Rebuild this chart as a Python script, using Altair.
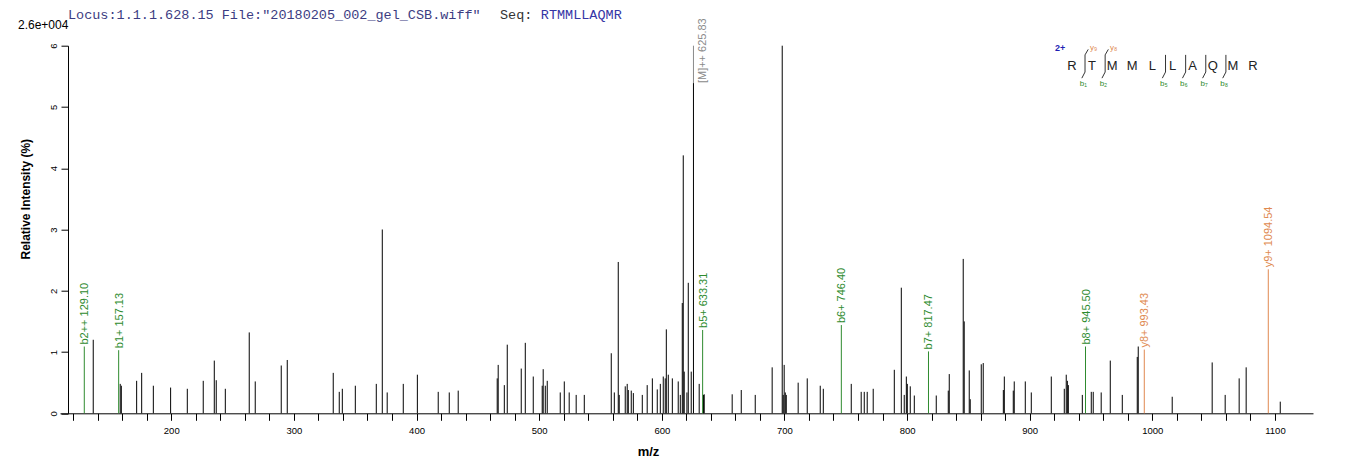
import altair as alt
import pandas as pd

# ---------------- data ----------------
peak_mz = [136.4, 158.4, 159.3, 171.8, 175.9, 185.4, 199.5, 213.1, 226.1, 235.1,
           236.7, 244.1, 263.6, 268.5, 289.7, 294.6, 332.1, 337.0, 339.5, 350.1,
           367.2, 372.1, 376.1, 389.2, 400.7, 417.7, 426.7, 434.0, 465.8, 466.6,
           471.6, 474.0, 485.4, 488.7, 495.2, 502.5, 503.3, 505.0, 506.6, 517.2,
           520.5, 524.5, 530.2, 536.8, 558.8, 561.3, 564.5, 565.3, 570.2, 571.8,
           572.7, 575.1, 576.8, 584.1, 588.1, 592.3, 596.3, 598.8, 601.2, 602.8,
           603.7, 605.3, 608.6, 613.4, 615.1, 616.7, 617.5, 618.3, 620.5, 621.6,
           624.0, 625.83, 630.5, 634.0, 634.6, 657.4, 664.8, 676.2, 690.0, 698.2,
           699.0, 699.8, 700.7, 701.5, 711.2, 718.6, 729.2, 731.7, 754.5, 762.6,
           765.1, 767.5, 772.4, 789.6, 795.3, 797.7, 799.4, 800.2, 802.6, 805.9,
           823.8, 833.6, 834.4, 845.8, 846.6, 850.7, 851.5, 860.5, 862.1, 878.5,
           879.3, 886.6, 887.4, 896.4, 901.3, 917.6, 928.2, 929.8, 930.7, 931.5,
           942.9, 950.2, 951.8, 958.3, 965.7, 975.5, 987.7, 988.5, 1016.2, 1048.8,
           1059.4, 1070.8, 1076.5, 1104.3]
peak_int = [1.20, 0.48, 0.45, 0.53, 0.66, 0.45, 0.42, 0.40, 0.53, 0.86,
            0.54, 0.40, 1.32, 0.52, 0.78, 0.87, 0.66, 0.35, 0.40, 0.45,
            0.48, 3.00, 0.34, 0.48, 0.63, 0.35, 0.34, 0.37, 0.57, 0.79,
            0.46, 1.12, 0.73, 1.15, 0.60, 0.45, 0.72, 0.45, 0.53, 0.34,
            0.52, 0.34, 0.30, 0.30, 0.98, 0.34, 2.47, 0.30, 0.44, 0.48,
            0.38, 0.37, 0.33, 0.30, 0.46, 0.57, 0.39, 0.48, 0.60, 0.57,
            1.37, 0.63, 0.57, 0.52, 0.30, 1.80, 4.21, 0.68, 0.34, 2.13,
            0.68, 5.39, 0.48, 0.30, 0.31, 0.31, 0.38, 0.30, 0.75, 6.00,
            0.30, 0.79, 0.34, 0.30, 0.50, 0.57, 0.45, 0.40, 0.48, 0.35,
            0.35, 0.35, 0.40, 0.71, 2.05, 0.30, 0.60, 0.48, 0.44, 0.29,
            0.29, 0.37, 0.64, 2.52, 1.50, 0.70, 0.23, 0.80, 0.82, 0.38,
            0.60, 0.37, 0.52, 0.52, 0.34, 0.60, 0.40, 0.63, 0.53, 0.46,
            0.30, 0.35, 0.35, 0.34, 0.86, 0.30, 0.92, 1.09, 0.27, 0.83,
            0.30, 0.57, 0.75, 0.19]

ann_mz = [129.10, 157.13, 633.31, 746.40, 817.47, 945.50, 993.43, 1094.54]
ann_int = [1.09, 1.03, 1.36, 1.44, 1.01, 1.09, 1.04, 2.35]
ann_label = ["b2++ 129.10", "b1+ 157.13", "b5+ 633.31", "b6+ 746.40",
             "b7+ 817.47", "b8+ 945.50", "y8+ 993.43", "y9+ 1094.54"]
ann_type = ["b", "b", "b", "b", "b", "b", "y", "y"]

prec_mz = [625.83]
prec_int = [5.39]
prec_top = [6.0]
prec_label = ["[M]++ 625.83"]

sequence = list("RTMMLLAQMR")
b_ions = [1, 2, 5, 6, 7, 8]
y_ions = [9, 8]
charge_label = "2+"

x_ticks = list(range(120, 1101, 20))
y_ticks = [0, 1, 2, 3, 4, 5, 6]

header_locus = 'Locus:1.1.1.628.15 File:"20180205_002_gel_CSB.wiff"'
header_seq_label = "Seq:"
header_seq = "RTMMLLAQMR"
scale_label = "2.6e+004"

# ---------------- styling / layout ----------------
GREEN = "#2e8b2e"
ORANGE = "#e0894f"
GREY = "#8a8a8a"
FONT = "Liberation Sans"
MONO = "Liberation Mono"

X_DOMAIN = [109.3, 1131.0]
Y_DOMAIN = [0, 6]
W, H = 1253, 367.6

# sequence annotation anchor (in data units)
SEQ_X0, SEQ_STEP, SEQ_Y = 934.4, 16.41, 5.67
SEP_SHIFT = 5.7
SEP_LO, SEP_HI = 5.57, 5.85

xs = alt.Scale(domain=X_DOMAIN, nice=False, zero=False)
ys = alt.Scale(domain=Y_DOMAIN, nice=False, zero=True)

x_axis = alt.Axis(values=x_ticks, labelExpr="datum.value % 100 == 0 ? datum.label : ''",
                  grid=False, tickSize=7, labelPadding=5, labelFontSize=9.5, labelFont=FONT,
                  labelColor="#000", domainColor="#000", tickColor="#000",
                  labelOverlap=False, labelBound=False,
                  title="m/z", titleFont=FONT, titleFontSize=13, titleFontWeight="bold",
                  titleColor="#000", titleX=588, titleY=38, titleBaseline="middle",
                  titleAnchor="start", titleAlign="center", labelFlush=False, format="d")
y_axis = alt.Axis(values=y_ticks, grid=False, tickSize=7, labelPadding=8, labelFontSize=9.5,
                  labelFont=FONT, labelColor="#000", labelAngle=270, labelAlign="center",
                  labelBaseline="middle", domainColor="#000", tickColor="#000", offset=-8,
                  labelOverlap=False, format="d",
                  title="Relative  Intensity (%)", titleFont=FONT, titleFontSize=12,
                  titleFontWeight="bold", titleColor="#000", titleAngle=270,
                  titleX=-43, titleY=153, titleAlign="center", titleBaseline="middle",
                  labelFlush=False)


def X(field):
    return alt.X(field, scale=xs, axis=x_axis)


def Y(field):
    return alt.Y(field, scale=ys, axis=y_axis)


peaks = pd.DataFrame({"mz": peak_mz, "inten": peak_int})
ann = pd.DataFrame({"mz": ann_mz, "inten": ann_int, "label": ann_label, "type": ann_type})
prec = pd.DataFrame({"mz": prec_mz, "inten": prec_int, "top": prec_top, "label": prec_label})

color_scale = alt.Scale(domain=["b", "y"], range=[GREEN, ORANGE])

base_peaks = alt.Chart(peaks).mark_rule(color="#000", strokeWidth=1).encode(
    x=X("mz:Q"), y=Y("inten:Q"), y2=alt.datum(0),
)

ann_rules = alt.Chart(ann).mark_rule(strokeWidth=1).encode(
    x=X("mz:Q"), y=Y("inten:Q"), y2=alt.datum(0),
    color=alt.Color("type:N", scale=color_scale, legend=None),
)
ann_text = alt.Chart(ann).mark_text(angle=270, align="left", baseline="middle", dx=2,
                                    dy=1, fontSize=11, font=FONT).encode(
    x=X("mz:Q"), y=Y("inten:Q"), text="label:N",
    color=alt.Color("type:N", scale=color_scale, legend=None),
)

prec_rule = alt.Chart(prec).mark_rule(color=GREY, strokeWidth=1).encode(
    x=X("mz:Q"), y=Y("inten:Q"), y2="top:Q",
)
prec_text = alt.Chart(prec).mark_text(angle=270, align="left", baseline="middle", dx=0,
                                      dy=10, fontSize=11, font=FONT, color=GREY).encode(
    x=X("mz:Q"), y=Y("inten:Q"), text="label:N",
)

# --- sequence annotation (top right) ---
n = len(sequence)
letters = pd.DataFrame({"x": [SEQ_X0 + SEQ_STEP * i for i in range(n)],
                        "y": [SEQ_Y] * n, "t": sequence})
seps = sorted(set(b_ions) | set(n - k for k in y_ions))
sep_df = pd.DataFrame({"x": [SEQ_X0 + SEQ_STEP * k - SEP_SHIFT for k in seps],
                       "y": [SEP_LO] * len(seps), "y2": [SEP_HI] * len(seps)})
b_df = pd.DataFrame({"k": b_ions})
b_df["x"] = SEQ_X0 + SEQ_STEP * b_df["k"] - SEP_SHIFT
b_df["xh"] = b_df["x"] - 2.6
b_df["y"] = SEP_LO
b_df["yh"] = SEP_LO - 0.10
b_df["xl"] = b_df["x"] - 1.4
b_df["yl"] = SEP_LO - 0.19
b_df["t"] = ["b" + "₀₁₂₃₄₅₆₇₈₉"[k] for k in b_ions]
y_df = pd.DataFrame({"k": y_ions})
y_df["x"] = SEQ_X0 + SEQ_STEP * (n - y_df["k"]) - SEP_SHIFT
y_df["xh"] = y_df["x"] + 2.6
y_df["y"] = SEP_HI
y_df["yh"] = SEP_HI + 0.09
y_df["xl"] = y_df["x"] + 7.0
y_df["yl"] = SEP_HI + 0.12
y_df["t"] = ["y" + "₀₁₂₃₄₅₆₇₈₉"[k] for k in y_ions]

seq_letters = alt.Chart(letters).mark_text(fontSize=13, font=FONT, color="#222",
                                           baseline="middle").encode(
    x=X("x:Q"), y=Y("y:Q"), text="t:N")
seq_seps = alt.Chart(sep_df).mark_rule(color="#333", strokeWidth=1).encode(
    x=X("x:Q"), y=Y("y:Q"), y2="y2:Q")
b_hooks = alt.Chart(b_df).mark_rule(color="#333", strokeWidth=1).encode(
    x=X("x:Q"), x2="xh:Q", y=Y("y:Q"), y2="yh:Q")
y_hooks = alt.Chart(y_df).mark_rule(color="#333", strokeWidth=1).encode(
    x=X("x:Q"), x2="xh:Q", y=Y("y:Q"), y2="yh:Q")
b_labels = alt.Chart(b_df).mark_text(fontSize=8, font=FONT, color=GREEN,
                                     baseline="middle").encode(
    x=X("xl:Q"), y=Y("yl:Q"), text="t:N")
y_labels = alt.Chart(y_df).mark_text(fontSize=8, font=FONT, color=ORANGE,
                                     baseline="middle").encode(
    x=X("xl:Q"), y=Y("yl:Q"), text="t:N")
charge = alt.Chart(pd.DataFrame({"x": [SEQ_X0 - 9.5], "y": [5.97], "t": [charge_label]})).mark_text(
    fontSize=9, font=FONT, fontWeight="bold", color="#1f1fb4", baseline="middle").encode(
    x=X("x:Q"), y=Y("y:Q"), text="t:N")

# --- header texts ---
hdr = pd.DataFrame({"t": [header_locus]})
h1 = alt.Chart(hdr).mark_text(font=MONO, fontSize=13.5, color="#3c3c82", align="left",
                              baseline="alphabetic").encode(
    x=alt.value(8), y=alt.value(-27), text="t:N")
h2 = alt.Chart(pd.DataFrame({"t": [header_seq_label]})).mark_text(
    font=MONO, fontSize=13.5, color="#333", align="left", baseline="alphabetic").encode(
    x=alt.value(440), y=alt.value(-27), text="t:N")
h3 = alt.Chart(pd.DataFrame({"t": [header_seq]})).mark_text(
    font=MONO, fontSize=13.5, color="#3535a5", align="left", baseline="alphabetic").encode(
    x=alt.value(480.8), y=alt.value(-27), text="t:N")
h4 = alt.Chart(pd.DataFrame({"t": [scale_label]})).mark_text(
    font=FONT, fontSize=12, color="#000", align="left", baseline="middle").encode(
    x=alt.value(-42), y=alt.value(-21), text="t:N")

chart = alt.layer(
    base_peaks, prec_rule, ann_rules, ann_text, prec_text,
    seq_letters, seq_seps, b_hooks, y_hooks, b_labels, y_labels, charge,
    h1, h2, h3, h4,
).properties(
    width=W, height=H,
    autosize=alt.AutoSizeParams(type="none"),
    padding={"left": 52, "top": 37.7, "right": 40, "bottom": 52},
).configure(background="white", view=alt.ViewConfig(stroke=None))

chart.save("out.html", embed_options={"renderer": "svg", "actions": False})
